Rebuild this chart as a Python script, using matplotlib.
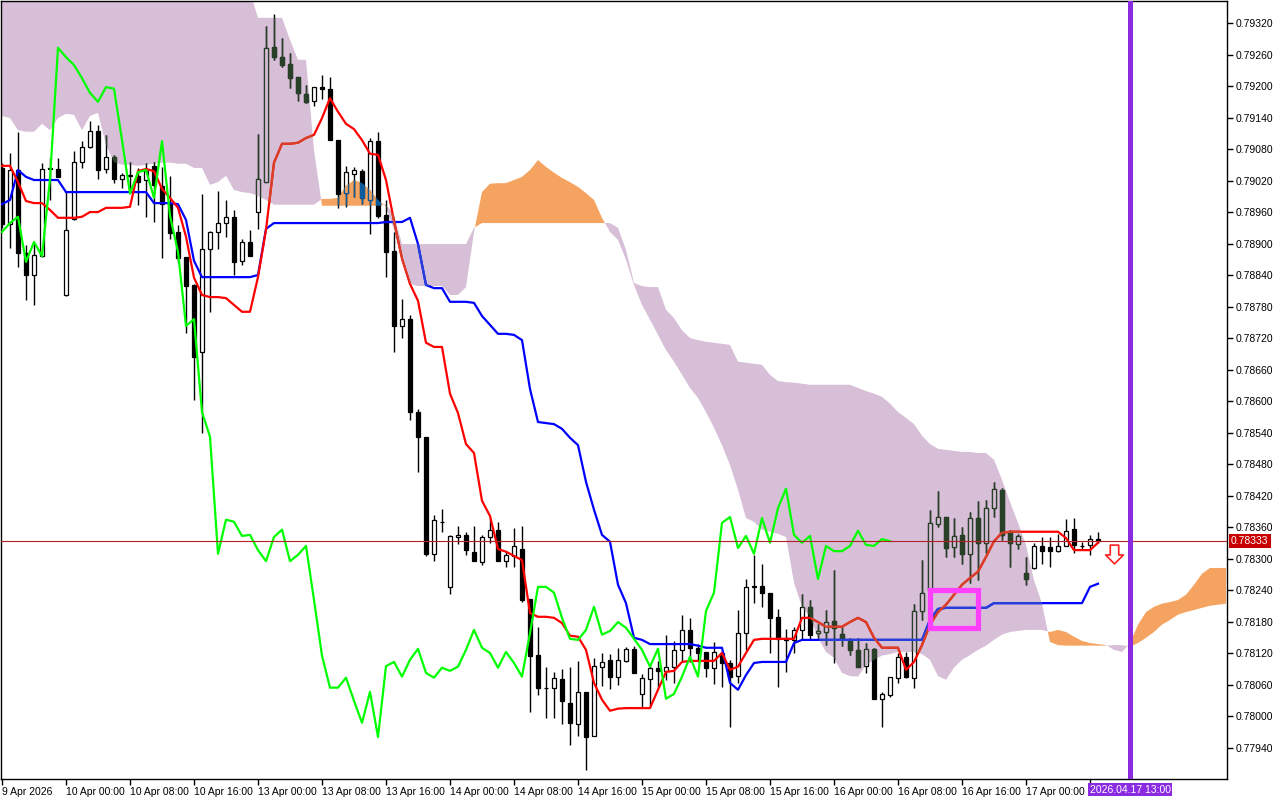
import numpy as np
import pandas as pd
import matplotlib
matplotlib.use("Agg")
import matplotlib.pyplot as plt
from matplotlib.path import Path
from matplotlib.patches import Rectangle
from matplotlib.colors import to_rgb
from matplotlib.transforms import blended_transform_factory, offset_copy

plt.rcParams['font.family'] = ['Liberation Sans', 'DejaVu Sans']

# H1 bars, weekend gap between Fri 23:00 and Mon 00:00
bar_times = pd.date_range("2026-04-09 16:00", "2026-04-10 23:00", freq="h").append(
    pd.date_range("2026-04-13 00:00", "2026-04-17 23:00", freq="h"))

opens = [0.79044, 0.78937, 0.79040, 0.78882, 0.78840, 0.78876, 0.79044, 0.79042, 0.78802, 0.78947,
         0.79055, 0.79084, 0.79115, 0.79042, 0.79065, 0.79023, 0.79031, 0.79029, 0.79021, 0.79048,
         0.79010, 0.78977, 0.78922, 0.78874, 0.78821, 0.78694, 0.78890, 0.78922, 0.78939, 0.78951,
         0.78867, 0.78903, 0.78960, 0.79017, 0.79275, 0.79255, 0.79242, 0.79217, 0.79185, 0.79172,
         0.79198, 0.79195, 0.79097, 0.78996, 0.79033, 0.79038, 0.78983, 0.79095, 0.78955, 0.78886,
         0.78743, 0.78756, 0.78579, 0.78532, 0.78309, 0.78370, 0.78246, 0.78341, 0.78345, 0.78313,
         0.78294, 0.78341, 0.78355, 0.78295, 0.78305, 0.78318, 0.78223, 0.78116, 0.78054, 0.78054,
         0.78071, 0.78025, 0.77985, 0.78046, 0.77962, 0.78094, 0.78107, 0.78075, 0.78105, 0.78128,
         0.78042, 0.78071, 0.78092, 0.78086, 0.78094, 0.78126, 0.78164, 0.78130, 0.78122, 0.78092,
         0.78120, 0.78101, 0.78076, 0.78158, 0.78248, 0.78248, 0.78235, 0.78189, 0.78149, 0.78145,
         0.78164, 0.78208, 0.78158, 0.78160, 0.78181, 0.78156, 0.78143, 0.78126, 0.78095, 0.78128,
         0.78033, 0.78040, 0.78073, 0.78113, 0.78073, 0.78200, 0.78240, 0.78366, 0.78379, 0.78322,
         0.78345, 0.78309, 0.78377, 0.78330, 0.78396, 0.78431, 0.78351, 0.78328, 0.78273, 0.78282,
         0.78324, 0.78322, 0.78314, 0.78324, 0.78356, 0.78324, 0.78326, 0.78337]
highs = [0.79054, 0.79073, 0.79113, 0.78897, 0.78901, 0.79054, 0.79063, 0.79063, 0.78998, 0.79076,
         0.79095, 0.79134, 0.79126, 0.79107, 0.79069, 0.79035, 0.79055, 0.79044, 0.79054, 0.79055,
         0.79046, 0.79029, 0.78935, 0.78874, 0.78823, 0.78995, 0.78924, 0.79000, 0.78983, 0.78964,
         0.78909, 0.78926, 0.79109, 0.79315, 0.79337, 0.79292, 0.79263, 0.79217, 0.79202, 0.79198,
         0.79221, 0.79217, 0.79097, 0.79048, 0.79046, 0.79042, 0.79101, 0.79113, 0.78983, 0.78922,
         0.78795, 0.78764, 0.78585, 0.78532, 0.78383, 0.78395, 0.78345, 0.78362, 0.78351, 0.78362,
         0.78345, 0.78377, 0.78370, 0.78313, 0.78358, 0.78362, 0.78223, 0.78170, 0.78094, 0.78084,
         0.78090, 0.78094, 0.78105, 0.78046, 0.78111, 0.78120, 0.78118, 0.78130, 0.78132, 0.78134,
         0.78080, 0.78097, 0.78105, 0.78155, 0.78143, 0.78193, 0.78187, 0.78137, 0.78122, 0.78141,
         0.78124, 0.78107, 0.78202, 0.78261, 0.78307, 0.78290, 0.78235, 0.78204, 0.78166, 0.78170,
         0.78233, 0.78221, 0.78175, 0.78202, 0.78278, 0.78170, 0.78149, 0.78149, 0.78139, 0.78130,
         0.78046, 0.78075, 0.78120, 0.78122, 0.78214, 0.78297, 0.78393, 0.78429, 0.78379, 0.78377,
         0.78360, 0.78389, 0.78410, 0.78412, 0.78446, 0.78435, 0.78355, 0.78347, 0.78303, 0.78330,
         0.78341, 0.78341, 0.78347, 0.78375, 0.78377, 0.78332, 0.78345, 0.78351]
lows = [0.78930, 0.78892, 0.78855, 0.78793, 0.78783, 0.78874, 0.78983, 0.79027, 0.78800, 0.78945,
        0.79044, 0.79082, 0.79023, 0.79035, 0.79015, 0.79006, 0.79004, 0.78974, 0.78951, 0.78941,
        0.78873, 0.78909, 0.78863, 0.78730, 0.78602, 0.78539, 0.78770, 0.78890, 0.78913, 0.78840,
        0.78859, 0.78876, 0.78928, 0.79017, 0.79250, 0.79236, 0.79196, 0.79172, 0.79168, 0.79162,
        0.79175, 0.79097, 0.78968, 0.78970, 0.78989, 0.78975, 0.78918, 0.78949, 0.78836, 0.78694,
        0.78720, 0.78564, 0.78465, 0.78305, 0.78295, 0.78351, 0.78233, 0.78328, 0.78307, 0.78295,
        0.78288, 0.78330, 0.78295, 0.78284, 0.78284, 0.78217, 0.78008, 0.78040, 0.77996, 0.77996,
        0.77985, 0.77945, 0.77962, 0.77897, 0.77962, 0.78057, 0.78052, 0.78059, 0.78103, 0.78082,
        0.78017, 0.78017, 0.78055, 0.78069, 0.78063, 0.78103, 0.78103, 0.78103, 0.78075, 0.78061,
        0.78055, 0.77979, 0.78063, 0.78126, 0.78215, 0.78208, 0.78120, 0.78055, 0.78084, 0.78120,
        0.78145, 0.78145, 0.78147, 0.78135, 0.78101, 0.78134, 0.78116, 0.78094, 0.78082, 0.78033,
        0.77979, 0.78036, 0.78063, 0.78073, 0.78054, 0.78183, 0.78231, 0.78360, 0.78303, 0.78303,
        0.78290, 0.78254, 0.78259, 0.78311, 0.78379, 0.78335, 0.78284, 0.78318, 0.78250, 0.78280,
        0.78290, 0.78284, 0.78313, 0.78324, 0.78311, 0.78316, 0.78307, 0.78330]
closes = [0.78937, 0.79040, 0.78882, 0.78840, 0.78878, 0.79042, 0.79042, 0.79027, 0.78926, 0.79055,
          0.79084, 0.79115, 0.79040, 0.79065, 0.79023, 0.79031, 0.79029, 0.79017, 0.79038, 0.79012,
          0.78975, 0.78920, 0.78873, 0.78819, 0.78684, 0.78890, 0.78922, 0.78939, 0.78951, 0.78865,
          0.78903, 0.78876, 0.79023, 0.79273, 0.79255, 0.79240, 0.79215, 0.79187, 0.79170, 0.79198,
          0.79195, 0.79097, 0.78995, 0.79036, 0.79040, 0.78987, 0.79095, 0.78953, 0.78884, 0.78743,
          0.78756, 0.78579, 0.78532, 0.78309, 0.78374, 0.78370, 0.78343, 0.78345, 0.78316, 0.78295,
          0.78341, 0.78355, 0.78295, 0.78307, 0.78324, 0.78221, 0.78115, 0.78054, 0.78054, 0.78073,
          0.78029, 0.77987, 0.78046, 0.77960, 0.78095, 0.78103, 0.78075, 0.78107, 0.78128, 0.78082,
          0.78073, 0.78092, 0.78086, 0.78094, 0.78126, 0.78164, 0.78130, 0.78120, 0.78092, 0.78122,
          0.78101, 0.78075, 0.78158, 0.78246, 0.78246, 0.78235, 0.78187, 0.78147, 0.78145, 0.78164,
          0.78208, 0.78155, 0.78162, 0.78179, 0.78168, 0.78147, 0.78126, 0.78094, 0.78128, 0.78033,
          0.78042, 0.78075, 0.78113, 0.78075, 0.78200, 0.78235, 0.78368, 0.78379, 0.78320, 0.78343,
          0.78309, 0.78377, 0.78330, 0.78396, 0.78433, 0.78345, 0.78330, 0.78343, 0.78261, 0.78324,
          0.78314, 0.78314, 0.78324, 0.78353, 0.78326, 0.78324, 0.78337, 0.78333]

tenkan = [0.79048, 0.79048, 0.79017, 0.78981, 0.78977, 0.78977, 0.78964, 0.78949, 0.78949, 0.78949,
          0.78951, 0.78960, 0.78960, 0.78968, 0.78968, 0.78968, 0.78970, 0.79038, 0.79042, 0.79038,
          0.79004, 0.78987, 0.78968, 0.78913, 0.78835, 0.78802, 0.78798, 0.78798, 0.78796, 0.78783,
          0.78770, 0.78770, 0.78836, 0.78926, 0.79054, 0.79090, 0.79090, 0.79092, 0.79101, 0.79107,
          0.79139, 0.79177, 0.79151, 0.79128, 0.79118, 0.79097, 0.79071, 0.79069, 0.79021, 0.78943,
          0.78871, 0.78823, 0.78791, 0.78711, 0.78703, 0.78703, 0.78614, 0.78577, 0.78518, 0.78501,
          0.78410, 0.78381, 0.78318, 0.78313, 0.78305, 0.78297, 0.78196, 0.78189, 0.78189, 0.78187,
          0.78177, 0.78153, 0.78151, 0.78126, 0.78063, 0.78031, 0.78010, 0.78014, 0.78015, 0.78015,
          0.78015, 0.78015, 0.78050, 0.78084, 0.78086, 0.78103, 0.78105, 0.78105, 0.78105, 0.78105,
          0.78120, 0.78088, 0.78094, 0.78120, 0.78145, 0.78147, 0.78147, 0.78147, 0.78147, 0.78147,
          0.78187, 0.78187, 0.78179, 0.78170, 0.78170, 0.78170, 0.78179, 0.78187, 0.78179, 0.78149,
          0.78130, 0.78130, 0.78130, 0.78088, 0.78103, 0.78135, 0.78174, 0.78198, 0.78212, 0.78231,
          0.78250, 0.78263, 0.78275, 0.78303, 0.78333, 0.78349, 0.78351, 0.78351, 0.78351, 0.78351,
          0.78351, 0.78351, 0.78351, 0.78339, 0.78316, 0.78316, 0.78316, 0.78330]
kijun = [0.78975, 0.78983, 0.79040, 0.79027, 0.79021, 0.79021, 0.79021, 0.79021, 0.78998, 0.78998,
         0.78998, 0.78998, 0.78998, 0.78998, 0.78998, 0.78998, 0.78998, 0.78998, 0.78998, 0.78977,
         0.78977, 0.78977, 0.78975, 0.78945, 0.78867, 0.78836, 0.78836, 0.78836, 0.78836, 0.78836,
         0.78836, 0.78836, 0.78840, 0.78928, 0.78939, 0.78939, 0.78939, 0.78939, 0.78939, 0.78939,
         0.78939, 0.78939, 0.78939, 0.78939, 0.78939, 0.78939, 0.78939, 0.78939, 0.78941, 0.78941,
         0.78941, 0.78949, 0.78899, 0.78821, 0.78815, 0.78815, 0.78789, 0.78789, 0.78789, 0.78787,
         0.78762, 0.78745, 0.78728, 0.78728, 0.78726, 0.78716, 0.78623, 0.78560, 0.78558, 0.78556,
         0.78547, 0.78530, 0.78516, 0.78446, 0.78393, 0.78345, 0.78332, 0.78250, 0.78215, 0.78149,
         0.78145, 0.78137, 0.78137, 0.78137, 0.78137, 0.78137, 0.78137, 0.78134, 0.78130, 0.78130,
         0.78130, 0.78063, 0.78050, 0.78078, 0.78101, 0.78103, 0.78103, 0.78103, 0.78103, 0.78139,
         0.78145, 0.78145, 0.78145, 0.78145, 0.78145, 0.78145, 0.78145, 0.78145, 0.78145, 0.78145,
         0.78145, 0.78145, 0.78145, 0.78145, 0.78145, 0.78145, 0.78183, 0.78204, 0.78206, 0.78206,
         0.78206, 0.78206, 0.78206, 0.78206, 0.78215, 0.78215, 0.78215, 0.78215, 0.78215, 0.78215,
         0.78215, 0.78215, 0.78215, 0.78215, 0.78215, 0.78215, 0.78246, 0.78252]

# senkou spans as plotted (already shifted 26 bars ahead, so they run past the last candle)
span_a = [0.79143, 0.79139, 0.79116, 0.79113, 0.79113, 0.79128, 0.79116, 0.79139, 0.79147, 0.79145,
          0.79116, 0.79143, 0.79149, 0.79088, 0.79055, 0.79050, 0.79050, 0.79048, 0.79050, 0.79052,
          0.79054, 0.79054, 0.79052, 0.79052, 0.79044, 0.79044, 0.79012, 0.79017, 0.79029, 0.79002,
          0.78998, 0.78996, 0.78991, 0.78983, 0.78974, 0.78974, 0.78974, 0.78974, 0.78974, 0.78974,
          0.78985, 0.78985, 0.78987, 0.79010, 0.79021, 0.79015, 0.79002, 0.78983, 0.78970, 0.78926,
          0.78865, 0.78823, 0.78819, 0.78819, 0.78819, 0.78819, 0.78802, 0.78802, 0.78817, 0.78922,
          0.78998, 0.79014, 0.79015, 0.79015, 0.79021, 0.79027, 0.79040, 0.79059, 0.79046, 0.79035,
          0.79025, 0.79017, 0.79008, 0.78996, 0.78983, 0.78949, 0.78922, 0.78907, 0.78869, 0.78821,
          0.78783, 0.78755, 0.78726, 0.78697, 0.78675, 0.78650, 0.78625, 0.78606, 0.78579, 0.78549,
          0.78516, 0.78478, 0.78431, 0.78377, 0.78370, 0.78355, 0.78351, 0.78347, 0.78341, 0.78254,
          0.78208, 0.78189, 0.78149, 0.78122, 0.78111, 0.78082, 0.78076, 0.78075, 0.78097, 0.78107,
          0.78115, 0.78118, 0.78122, 0.78122, 0.78122, 0.78118, 0.78107, 0.78076, 0.78069, 0.78092,
          0.78107, 0.78116, 0.78126, 0.78134, 0.78145, 0.78155, 0.78160, 0.78162, 0.78164, 0.78164,
          0.78164, 0.78160, 0.78164, 0.78160, 0.78151, 0.78143, 0.78139, 0.78137, 0.78135, 0.78126,
          0.78122, 0.78139, 0.78174, 0.78198, 0.78208, 0.78214, 0.78217, 0.78221, 0.78231, 0.78250,
          0.78271, 0.78282, 0.78282, 0.78282]
# span B is above the top edge for the first 32 bars
span_b = [0.79380] * 32 + [
          0.79330, 0.79330, 0.79330, 0.79330, 0.79288, 0.79250, 0.79250, 0.79078,
          0.78972, 0.78972, 0.78972, 0.78972, 0.78972, 0.78972, 0.78972, 0.78972, 0.78974, 0.78955,
          0.78899, 0.78899, 0.78899, 0.78899, 0.78899, 0.78899, 0.78899, 0.78899, 0.78899, 0.78930,
          0.78939, 0.78939, 0.78939, 0.78939, 0.78939, 0.78939, 0.78939, 0.78939, 0.78939, 0.78939,
          0.78939, 0.78939, 0.78939, 0.78939, 0.78939, 0.78939, 0.78939, 0.78930, 0.78888, 0.78825,
          0.78819, 0.78817, 0.78817, 0.78774, 0.78758, 0.78735, 0.78720, 0.78716, 0.78713, 0.78711,
          0.78709, 0.78707, 0.78675, 0.78673, 0.78671, 0.78669, 0.78650, 0.78638, 0.78636, 0.78635,
          0.78633, 0.78631, 0.78631, 0.78631, 0.78631, 0.78631, 0.78631, 0.78625, 0.78619, 0.78614,
          0.78608, 0.78595, 0.78579, 0.78568, 0.78556, 0.78534, 0.78518, 0.78509, 0.78507, 0.78505,
          0.78503, 0.78503, 0.78501, 0.78501, 0.78488, 0.78450, 0.78408, 0.78368, 0.78326, 0.78259,
          0.78214, 0.78141, 0.78135, 0.78134, 0.78134, 0.78134, 0.78134, 0.78134, 0.78134, 0.78135,
          0.78135, 0.78132, 0.78139, 0.78149, 0.78160, 0.78174, 0.78183, 0.78193, 0.78198, 0.78202,
          0.78206, 0.78210, 0.78212, 0.78214]

chikou_shift = 26
cursor_time = pd.Timestamp("2026-04-17 13:00")
box_start, box_end = pd.Timestamp("2026-04-16 12:00"), pd.Timestamp("2026-04-16 18:00")
box_low, box_high = 0.78168, 0.78240
arrow_time = pd.Timestamp("2026-04-17 11:00")
arrow_price = 0.78308

THISTLE = "#D8BFD8"
SANDY = "#F4A460"
TENKAN_C = "#FF0000"
KIJUN_C = "#0000FF"
CHIKOU_C = "#00FF00"
CURSOR_C = "#8A2BE2"


def xnor(color, bg):
    # MT4 draws the cloud histogram with an xnor pen over what is already there
    a = np.round(np.array(to_rgb(color)) * 255).astype(int)
    b = np.round(np.array(to_rgb(bg)) * 255).astype(int)
    return tuple((255 - (a ^ b)) / 255)


def draw_candles(ax, up_face, down_face, edge, z, clip=None):
    x = np.arange(len(opens))
    o, h, l, c = (np.asarray(v) for v in (opens, highs, lows, closes))
    wicks = ax.vlines(x, l, h, color=edge, lw=1.0, zorder=z)
    faces = [up_face if cc > oo else down_face for oo, cc in zip(o, c)]
    bodies = ax.bar(x, np.abs(c - o), width=0.6, bottom=np.minimum(o, c),
                    color=faces, edgecolor=edge, linewidth=0.9, zorder=z)
    if clip is not None:
        wicks.set_clip_path(clip, ax.transData)
        for p in bodies.patches:
            p.set_clip_path(clip, ax.transData)


def draw_lines(ax, red, blue, z, clip=None):
    x = np.arange(len(tenkan))
    l1, = ax.plot(x, kijun, color=blue, lw=1.6, zorder=z)
    l2, = ax.plot(x, tenkan, color=red, lw=1.6, zorder=z)
    if clip is not None:
        l1.set_clip_path(clip, ax.transData)
        l2.set_clip_path(clip, ax.transData)


fig = plt.figure(figsize=(12.8, 8), dpi=100)
ax = fig.add_axes([1 / 1280, 21 / 800, 1226 / 1280, 778 / 800])
ax.set_facecolor("white")

# cloud
xc = np.arange(len(span_a))
sa, sb = np.asarray(span_a), np.asarray(span_b)
bear = ax.fill_between(xc, sa, sb, where=sb >= sa, interpolate=True,
                       color=THISTLE, lw=0, zorder=1)
bull = ax.fill_between(xc, sa, sb, where=sa > sb, interpolate=True,
                       color=SANDY, lw=0, zorder=1)
bear_clip = Path.make_compound_path(*bear.get_paths())
bull_clip = Path.make_compound_path(*bull.get_paths())

# normal candles + lines, then the xnor-coloured copies inside the cloud
draw_candles(ax, "white", "black", "black", 2)
draw_lines(ax, TENKAN_C, KIJUN_C, 3)
for clip, bg in ((bear_clip, THISTLE), (bull_clip, SANDY)):
    draw_candles(ax, xnor("white", bg), xnor("black", bg), xnor("black", bg), 4, clip)
    draw_lines(ax, xnor(TENKAN_C, bg), xnor(KIJUN_C, bg), 5, clip)

# chikou span: close plotted 26 bars back
xi = np.arange(len(closes))
ax.plot(xi[chikou_shift:] - chikou_shift, closes[chikou_shift:], color=CHIKOU_C, lw=1.6, zorder=6)

# last price line
last_price = closes[-1]
ax.axhline(last_price, color="#B22222", lw=0.8, zorder=6)

# cursor line
cursor_bar = bar_times.get_loc(cursor_time)
ax.axvline(cursor_bar, color=CURSOR_C, lw=3.6, zorder=7)

# drawn objects
b0, b1 = bar_times.get_loc(box_start), bar_times.get_loc(box_end)
ax.add_patch(Rectangle((b0, box_low), b1 - b0, box_high - box_low, fill=False,
                       edgecolor="#FF40FF", lw=3.8, zorder=8))
arrow = Path([(-0.45, 1), (0.45, 1), (0.45, -0.05), (0.95, -0.05), (0, -1),
              (-0.95, -0.05), (-0.45, -0.05), (-0.45, 1)],
             [Path.MOVETO] + [Path.LINETO] * 6 + [Path.CLOSEPOLY])
ax.plot([bar_times.get_loc(arrow_time)], [arrow_price], ls="none", marker=arrow, ms=13.5,
        mfc="white", mec="#FF2020", mew=1.2, zorder=8)

ax.set_xlim(-0.125, 153.125)
ax.set_ylim(0.77880, 0.79362)

for s in ax.spines.values():
    s.set_color("black")
    s.set_linewidth(1.0)

# price axis on the right
price_ticks = np.round(np.arange(0.77940, 0.79321, 0.0006), 5)
ax.yaxis.tick_right()
ax.set_yticks(price_ticks)
ax.set_yticklabels([f"{v:.5f}" for v in price_ticks])
ax.tick_params(axis="y", direction="out", length=4, width=1, pad=2, labelsize=7.5)

# time axis, a label every 8 bars
tick_bars = list(range(0, len(opens), 8))
tick_labels = []
for b in tick_bars:
    t = bar_times[b]
    if b == 0:
        tick_labels.append(f"{t.day} {t:%b %Y}")
    elif abs(b - cursor_bar) < 8:
        tick_labels.append("")
    else:
        tick_labels.append(f"{t.day} {t:%b %H:%M}")
ax.set_xticks(tick_bars)
ax.set_xticklabels(tick_labels)
ax.tick_params(axis="x", direction="out", length=4, width=1, pad=2, labelsize=7.5)
for lab in ax.get_xticklabels():
    lab.set_horizontalalignment("left")

# price tag on the axis
ytrans = offset_copy(blended_transform_factory(ax.transAxes, ax.transData), fig=fig, x=4, y=0, units="dots")
ax.text(1.0, last_price, f"{last_price:.5f}", transform=ytrans, ha="left", va="center",
        fontsize=7.5, color="white", clip_on=False, zorder=10,
        bbox=dict(boxstyle="square,pad=0.2", fc="#C80000", ec="none"))

# cursor time tag
xtrans = blended_transform_factory(ax.transData, ax.transAxes)
ax.text(cursor_bar, -0.0135, cursor_time.strftime("%Y.%m.%d %H:%M"), transform=xtrans,
        ha="center", va="center", fontsize=7.5, color="white", clip_on=False, zorder=10,
        bbox=dict(boxstyle="square,pad=0.15", fc=CURSOR_C, ec="none"))

fig.savefig("out.png", dpi=100)
